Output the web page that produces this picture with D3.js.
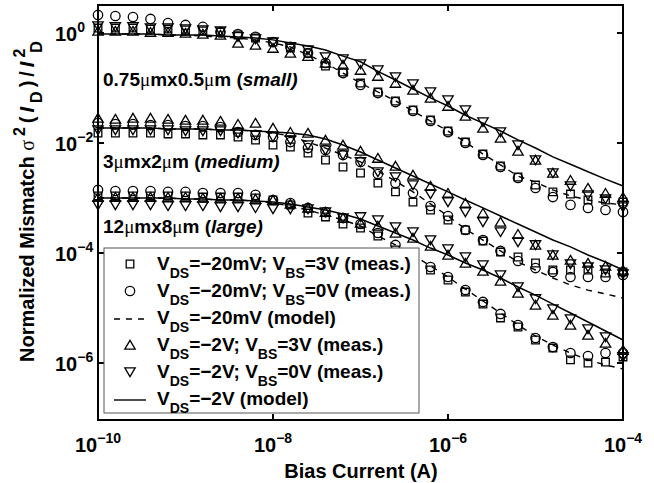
<!DOCTYPE html>
<html><head><meta charset="utf-8">
<script src="https://cdn.jsdelivr.net/npm/d3@7"></script>
<style>
body{margin:0;background:#fff}
svg{display:block}
text{font-family:"Liberation Sans",Arial,Helvetica,sans-serif;font-weight:bold;fill:#000}
</style>
</head><body>
<svg id="chart" width="654" height="483"></svg>
<script>
// ---- data (bias current grid, A) ----
const biasCurrent = [1e-10,1.58e-10,2.51e-10,3.98e-10,6.31e-10,1e-9,1.58e-9,2.51e-9,3.98e-9,6.31e-9,1e-8,1.58e-8,2.51e-8,3.98e-8,6.31e-8,1e-7,1.58e-7,2.51e-7,3.98e-7,6.31e-7,1e-6,1.58e-6,2.51e-6,3.98e-6,6.31e-6,1e-5,1.58e-5,2.51e-5,3.98e-5,6.31e-5,1e-4];

// small 0.75um x 0.5um
const smallSquare = [1.23,1.23,1.23,1.18,1.18,1.135,1.087,1.04,0.92,0.81,0.686,0.533,0.433,0.251,0.195,0.123,0.0846,0.058,0.0398,0.0262,0.0165,0.0104,0.0063,0.00382,0.00241,0.00172,0.00129,0.00118,0.00092,0.00092,0.000845];
const smallCircle = [2.13,2.04,1.95,1.80,1.52,1.40,1.29,1.04,0.96,0.85,0.686,0.56,0.433,0.285,0.187,0.1135,0.081,0.0556,0.0382,0.0251,0.0158,0.0100,0.00605,0.00366,0.00231,0.00152,0.00104,0.00075,0.00066,0.000605,0.000556];
const smallUp = [1.087,1.087,1.087,1.04,1.04,1.0,0.96,0.92,0.66,0.605,0.533,0.433,0.38,0.285,0.262,0.212,0.165,0.123,0.092,0.066,0.047,0.031,0.01875,0.01233,0.00716,0.00491,0.00285,0.00212,0.00152,0.00123,0.00104];
const smallDown = [1.34,1.29,1.29,1.23,1.23,1.18,1.135,1.087,0.85,0.778,0.686,0.56,0.49,0.366,0.337,0.273,0.212,0.158,0.118,0.0846,0.0605,0.0398,0.0241,0.0158,0.0092,0.00491,0.00285,0.00165,0.00113,0.00096,0.000686];
const smallModel20mV = [0.96,0.96,0.96,0.96,0.92,0.92,0.88,0.85,0.81,0.75,0.66,0.56,0.40,0.285,0.187,0.123,0.0846,0.058,0.0382,0.0251,0.0165,0.0104,0.0063,0.0040,0.0025,0.00195,0.0014,0.00109,0.00092,0.00081,0.00075];
const smallModel2V = [0.96,0.96,0.96,0.96,0.92,0.92,0.92,0.88,0.85,0.81,0.75,0.66,0.58,0.49,0.38,0.30,0.20,0.14,0.096,0.066,0.047,0.032,0.023,0.0165,0.0114,0.0081,0.0056,0.0041,0.0030,0.0022,0.00165];

// medium 3um x 2um
const mediumSquare = [0.0152,0.0152,0.0152,0.0152,0.0146,0.0146,0.0140,0.0140,0.01285,0.01135,0.0092,0.00846,0.00658,0.00491,0.00366,0.00285,0.00187,0.00129,0.000845,0.000605,0.000398,0.000262,0.000165,0.000104,0.0000846,0.0000658,0.0000491,0.0000491,0.0000491,0.0000433,0.0000452];
const mediumCircle = [0.0231,0.0221,0.0221,0.0212,0.0212,0.0204,0.0204,0.0195,0.0158,0.0140,0.01285,0.0104,0.0081,0.00746,0.00605,0.00452,0.00273,0.00187,0.00123,0.000716,0.00047,0.000262,0.000172,0.000109,0.0000716,0.0000533,0.0000452,0.0000366,0.0000366,0.0000366,0.0000398];
const mediumUp = [0.0285,0.0273,0.0285,0.0285,0.0273,0.0262,0.0262,0.0251,0.0221,0.0231,0.01875,0.0158,0.0152,0.01135,0.0092,0.00716,0.00533,0.00382,0.00262,0.00165,0.00123,0.00081,0.000533,0.000366,0.000221,0.00014,0.000092,0.0000746,0.0000658,0.000058,0.0000491];
const mediumDown = [0.0172,0.0172,0.0172,0.0172,0.0172,0.0165,0.0165,0.0165,0.0152,0.0140,0.01285,0.01135,0.0092,0.00746,0.00605,0.00452,0.00297,0.00241,0.00172,0.00118,0.000845,0.000556,0.000366,0.000241,0.000158,0.00014,0.000092,0.000063,0.0000556,0.0000491,0.0000415];
const mediumModel20mV = [0.01875,0.01875,0.01875,0.01875,0.0180,0.0180,0.0180,0.0172,0.0172,0.0165,0.0152,0.0134,0.0104,0.0081,0.00605,0.00452,0.0031,0.00204,0.00129,0.00078,0.00047,0.000273,0.000172,0.000109,0.0000686,0.0000491,0.0000351,0.0000262,0.0000212,0.000018,0.0000152];
const mediumModel2V = [0.01875,0.01875,0.01875,0.01875,0.0180,0.0180,0.0180,0.0172,0.0172,0.0165,0.0158,0.0152,0.0140,0.0118,0.0092,0.00686,0.00491,0.00351,0.00251,0.0018,0.00129,0.00092,0.00066,0.00047,0.000337,0.000241,0.000172,0.000129,0.000092,0.0000686,0.0000491];

// large 12um x 8um
const largeSquare = [0.00109,0.00109,0.00109,0.00109,0.00109,0.00109,0.00104,0.00104,0.00104,0.001,0.00092,0.000746,0.000533,0.000452,0.000337,0.000285,0.000204,0.000114,0.000081,0.0000491,0.0000323,0.0000195,0.0000118,0.0000066,0.00000452,0.00000262,0.00000187,0.00000114,0.000001,0.00000104,0.00000129];
const largeCircle = [0.0014,0.00134,0.00134,0.00134,0.00129,0.00129,0.00123,0.00123,0.00123,0.00114,0.00092,0.00081,0.00066,0.000556,0.000433,0.000337,0.000231,0.00014,0.000092,0.0000556,0.0000366,0.0000212,0.0000129,0.0000078,0.00000491,0.00000285,0.00000195,0.00000152,0.00000134,0.00000152,0.00000152];
const largeUp = [0.00104,0.00104,0.00104,0.00104,0.00104,0.00104,0.001,0.001,0.001,0.00096,0.00092,0.00078,0.00066,0.000556,0.000433,0.000351,0.00031,0.000231,0.0001875,0.000134,0.000092,0.0000658,0.0000471,0.000031,0.00001875,0.0000114,0.00000746,0.00000491,0.00000323,0.00000231,0.00000172];
const largeDown = [0.000746,0.000746,0.000746,0.000746,0.000716,0.000716,0.000716,0.000686,0.000686,0.00066,0.00063,0.00063,0.00063,0.000556,0.000433,0.000452,0.000398,0.000297,0.000241,0.000172,0.000118,0.0000846,0.0000605,0.0000398,0.0000241,0.0000146,0.0000096,0.0000063,0.00000415,0.00000297,0.00000129];
const largeModel20mV = [0.001,0.001,0.001,0.001,0.001,0.00096,0.00096,0.00092,0.00092,0.00088,0.00081,0.000716,0.000605,0.000491,0.000398,0.00031,0.000204,0.00014,0.000092,0.000058,0.0000366,0.0000221,0.0000134,0.0000081,0.00000491,0.0000031,0.00000212,0.00000152,0.00000114,0.00000092,0.00000078];
const largeModel2V = [0.001,0.001,0.001,0.001,0.001,0.00096,0.00096,0.00092,0.00092,0.00088,0.000845,0.00078,0.000686,0.000605,0.000512,0.000415,0.00031,0.000231,0.000172,0.000123,0.000092,0.0000658,0.0000491,0.0000351,0.0000241,0.0000172,0.0000118,0.0000081,0.00000556,0.00000382,0.00000262];

const sizeNames = ["0.75μmx0.5μm", "3μmx2μm", "12μmx8μm"];
const sizeTags = ["small", "medium", "large"];
const xTickExps = [-10, -8, -6, -4];
const yTickExps = [0, -2, -4, -6];
const legendLabels = [
  [["V"],["DS","sub"],["=−20mV; V"],["BS","sub"],["=3V (meas.)"]],
  [["V"],["DS","sub"],["=−20mV; V"],["BS","sub"],["=0V (meas.)"]],
  [["V"],["DS","sub"],["=−20mV (model)"]],
  [["V"],["DS","sub"],["=−2V; V"],["BS","sub"],["=3V (meas.)"]],
  [["V"],["DS","sub"],["=−2V; V"],["BS","sub"],["=0V (meas.)"]],
  [["V"],["DS","sub"],["=−2V (model)"]]
];
const legendKinds = ["square","circle","dash","up","down","solid"];

// ---- layout ----
const svg = d3.select("#chart");
const L = 98, R = 623, T = 5, B = 420;
const x = d3.scaleLog().domain([1e-10, 1e-4]).range([L, R]);
const y = d3.scaleLog().domain([9.2e-8, 3.23]).range([B, T]);

const groups = [
  {sq: smallSquare, ci: smallCircle, up: smallUp, dn: smallDown, m20: smallModel20mV, m2: smallModel2V},
  {sq: mediumSquare, ci: mediumCircle, up: mediumUp, dn: mediumDown, m20: mediumModel20mV, m2: mediumModel2V},
  {sq: largeSquare, ci: largeCircle, up: largeUp, dn: largeDown, m20: largeModel20mV, m2: largeModel2V}
];

const markerPath = {
  square: "M-3.8,-3.8H3.8V3.8H-3.8Z",
  circle: d3.symbol(d3.symbolCircle, Math.PI * 4.7 * 4.7)(),
  up: "M0,-4.6L5.2,4.2L-5.2,4.2Z",
  down: "M0,4.6L5.2,-4.2L-5.2,-4.2Z"
};

const line = d3.line().x(d => x(d[0])).y(d => y(d[1]));
const plot = svg.append("g");

groups.forEach(g => {
  plot.append("path").datum(d3.zip(biasCurrent, g.m20)).attr("d", line)
    .attr("fill", "none").attr("stroke", "#000").attr("stroke-width", 1.4).attr("stroke-dasharray", "6,6");
  plot.append("path").datum(d3.zip(biasCurrent, g.m2)).attr("d", line)
    .attr("fill", "none").attr("stroke", "#000").attr("stroke-width", 1.5);
  [["square", g.sq], ["circle", g.ci], ["up", g.up], ["down", g.dn]].forEach(([kind, vals]) => {
    plot.append("g").selectAll("path").data(d3.zip(biasCurrent, vals)).join("path")
      .attr("d", markerPath[kind])
      .attr("transform", d => `translate(${x(d[0])},${y(d[1])})`)
      .attr("fill", "none").attr("stroke", "#000").attr("stroke-width", 1.3);
  });
});

// ---- frame & ticks ----
svg.append("rect").attr("x", L).attr("y", T).attr("width", R - L).attr("height", B - T)
  .attr("fill", "none").attr("stroke", "#000").attr("stroke-width", 2);
const tl = 6;
xTickExps.forEach(e => {
  const xv = x(Math.pow(10, e));
  svg.append("line").attr("x1", xv).attr("x2", xv).attr("y1", B).attr("y2", B - tl).attr("stroke", "#000").attr("stroke-width", 2);
  svg.append("line").attr("x1", xv).attr("x2", xv).attr("y1", T).attr("y2", T + tl).attr("stroke", "#000").attr("stroke-width", 2);
  const t = svg.append("text").attr("x", xv).attr("y", 452).attr("text-anchor", "middle").style("font-size", "20px");
  t.append("tspan").text("10");
  t.append("tspan").attr("dy", -9).style("font-size", "14px").text("−" + Math.abs(e));
});
yTickExps.forEach(e => {
  const yv = y(Math.pow(10, e));
  svg.append("line").attr("x1", L).attr("x2", L + tl).attr("y1", yv).attr("y2", yv).attr("stroke", "#000").attr("stroke-width", 2);
  svg.append("line").attr("x1", R).attr("x2", R - tl).attr("y1", yv).attr("y2", yv).attr("stroke", "#000").attr("stroke-width", 2);
  const t = svg.append("text").attr("x", 55).attr("y", yv + 8).style("font-size", "20px");
  t.append("tspan").text("10");
  t.append("tspan").attr("dy", -9).style("font-size", "14px").text(e === 0 ? "0" : "−" + Math.abs(e));
});

// ---- rich text helper ----
function rich(t, parts, size, subScale) {
  const sc = subScale || 0.72;
  let cur = 0;
  parts.forEach(p => {
    const kind = p[1] || "n";
    const shift = kind === "sub" ? Math.round(size * 0.4) : kind === "sup" ? -Math.round(size * 0.45) : 0;
    const ts = t.append("tspan").attr("dy", shift - cur).text(p[0]);
    if (kind === "sub" || kind === "sup") ts.style("font-size", Math.round(size * sc) + "px");
    if (kind === "it") ts.style("font-style", "italic");
    if (kind === "mu") ts.style("font-family", "'Liberation Serif',serif").style("font-weight", "normal");
    if (p[2]) ts.attr("dx", p[2]);
    if (p[3]) ts.style("letter-spacing", p[3]);
    cur = shift;
  });
}

// ---- size annotations ----
const annBase = [86, 168, 233];
sizeNames.forEach((name, i) => {
  const t = svg.append("text").attr("x", 103).attr("y", annBase[i]).style("font-size", "19px");
  const parts = [];
  name.split("μ").forEach((seg, k) => { if (k > 0) parts.push(["μ", "mu"]); if (seg) parts.push([seg]); });
  parts.push([" ("]); parts.push([sizeTags[i] + ")", "it"]);
  rich(t, parts, 19);
});

// ---- legend ----
const lg = svg.append("g");
lg.append("rect").attr("x", 104).attr("y", 248).attr("width", 315).attr("height", 165)
  .attr("fill", "#fff").attr("stroke", "#555").attr("stroke-width", 1);
legendKinds.forEach((kind, i) => {
  const cy = 264 + i * 27;
  if (kind === "dash" || kind === "solid") {
    lg.append("line").attr("x1", 114).attr("x2", 146).attr("y1", cy + 1).attr("y2", cy + 1)
      .attr("stroke", "#000").attr("stroke-width", 1.4).attr("stroke-dasharray", kind === "dash" ? "6,6" : null);
  } else {
    lg.append("path").attr("d", markerPath[kind]).attr("transform", `translate(130,${cy})`)
      .attr("fill", "none").attr("stroke", "#000").attr("stroke-width", 1.3);
  }
  const t = lg.append("text").attr("x", 157).attr("y", cy + 6).style("font-size", "19px");
  rich(t, legendLabels[i], 19);
});

// ---- axis titles ----
svg.append("text").attr("x", 361).attr("y", 478).attr("text-anchor", "middle").style("font-size", "20px").text("Bias Current (A)");
const yl = svg.append("text").attr("transform", "translate(34,362) rotate(-90)").style("font-size", "20px");
rich(yl, [["Normalized Mismatch  "], ["σ", "mu", 0, "4px"], ["2", "sup", 0, "4px"], ["(", "n", 0, "4px"], ["I", "it", 0, "4px"], ["D", "sub", 0, "4px"], [")/", "n", 0, "4px"], ["I", "it", 0, "4px"], ["2", "sup", 0, "4px"], ["D", "sub", -8]], 20, 0.8);
</script>
</body></html>
